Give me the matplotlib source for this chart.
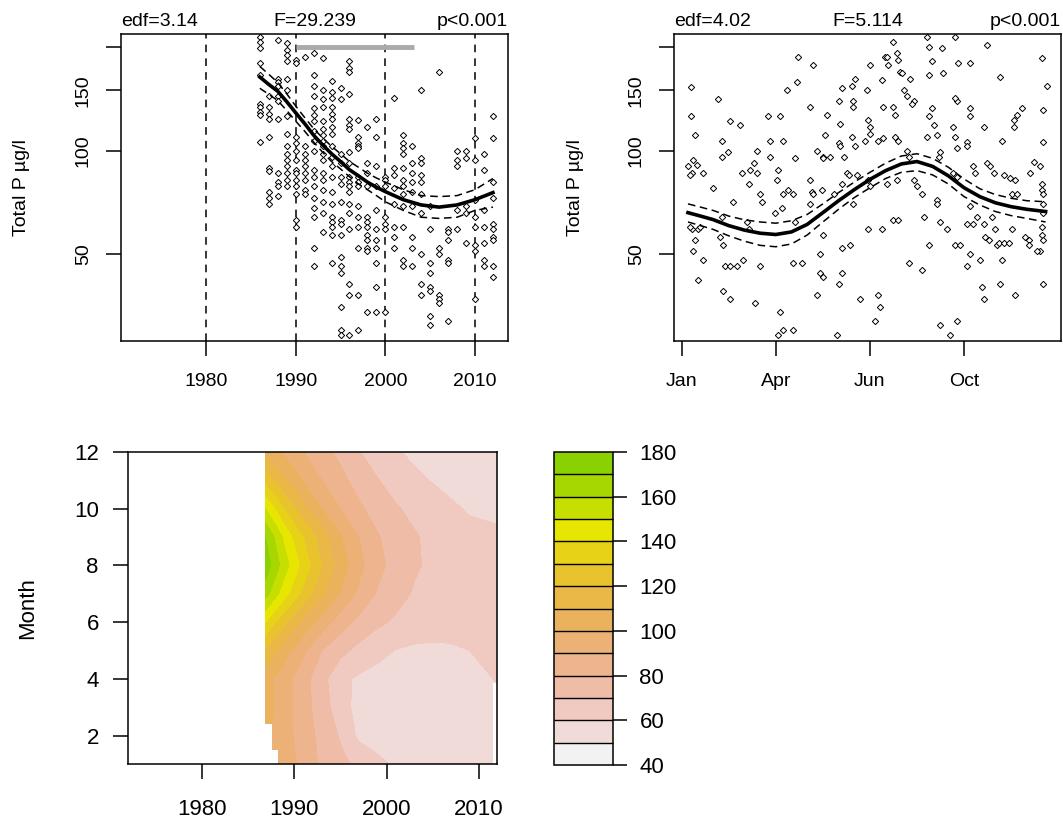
import colorsys
import numpy as np
import matplotlib
matplotlib.use("Agg")
import matplotlib.pyplot as plt
from matplotlib.patches import Rectangle
from matplotlib.ticker import NullLocator

plt.rcParams['font.family'] = ['Liberation Sans', 'DejaVu Sans']

# ---------------------------------------------------------------- data
# long term trend panel: observations per year
obs_years = [1986, 1987, 1988, 1989, 1990, 1991, 1992, 1993, 1994, 1995, 1996, 1997, 1998, 1999,
             2000, 2001, 2002, 2003, 2004, 2005, 2006, 2007, 2008, 2009, 2010, 2011, 2012]
obs_tp = [
    [214, 208, 199, 180, 166, 137, 134, 130, 127, 106],
    [144, 134, 128, 124, 110, 89, 87, 76, 73, 70],
    [210, 162, 159, 154, 144, 140, 124, 86, 81, 79, 74],
    [206, 197, 190, 182, 162, 150, 126, 112, 103, 98, 94, 90, 86, 82, 79],
    [184, 180, 110, 105, 100, 94, 88, 86, 82, 79, 75, 63, 60],
    [188, 103, 98, 94, 90, 86, 82, 77, 75],
    [192, 166, 154, 144, 133, 127, 122, 114, 107, 100, 88, 84, 79, 73, 68, 64, 52, 46],
    [186, 150, 141, 134, 122, 116, 111, 107, 103, 98, 94, 86, 82, 77, 71, 66, 58],
    [160, 148, 142, 134, 128, 124, 117, 112, 103, 96, 90, 84, 76, 70, 64, 62, 60, 57, 47],
    [152, 141, 98, 92, 84, 80, 71, 63, 61, 57, 49, 46, 44, 35, 30, 29],
    [182, 174, 170, 146, 124, 119, 116, 99, 92, 84, 81, 79, 76, 70, 66, 59, 41, 38, 29],
    [123, 110, 105, 103, 102, 84, 81, 79, 69, 64, 60, 52, 38, 30],
    [117, 92, 86, 79, 64, 62, 60, 57, 55, 52, 51, 34],
    [124, 110, 90, 79, 67, 59, 55, 52, 47, 40, 34],
    [84, 82, 79, 64, 61, 59, 34],
    [142, 89, 85, 78, 70, 60, 56, 52],
    [111, 105, 102, 98, 89, 82, 79, 75, 69, 60, 48, 46],
    [103, 92, 86, 81, 76, 69, 56, 52, 46],
    [150, 95, 92, 85, 81, 75, 66, 50, 41, 38],
    [69, 59, 47, 44, 40, 39, 33, 31],
    [170, 52, 50, 38, 37, 36],
    [59, 58, 55, 48, 47, 32],
    [100, 94, 90, 67, 59],
    [100, 95, 69, 66, 54],
    [109, 94, 72, 64, 60, 53, 51, 37],
    [98, 88, 67, 60, 54, 48, 46],
    [126, 109, 81, 73, 61, 59, 56, 55, 46, 43],
]

# smooth trend with confidence band
trend_years = [1986, 1987, 1988, 1989, 1990, 1991, 1992, 1993, 1994, 1995, 1996, 1997, 1998, 1999,
               2000, 2002, 2004, 2006, 2008, 2010, 2012]
trend_fit = [164, 156, 149, 139, 129, 120, 111, 104, 98, 93, 88, 84.5, 81, 78.3,
             76, 72, 69.5, 68.5, 69.5, 72, 75.5]
trend_hi = [176, 167, 158, 146.5, 135, 125, 116, 109, 103, 98, 93, 89.5, 86, 83.3,
            81, 77, 74, 73.5, 74, 77, 83]
trend_lo = [152, 146, 140, 131, 122, 114, 106, 99, 93, 88.5, 84, 80, 77, 74,
            71, 67, 64, 63.5, 64, 67, 68.5]
trend_vlines = [1980, 1990, 2000, 2010]
trend_period = [1990, 2003.2]
trend_stats = ['edf=3.14', 'F=29.239', 'p<0.001']

# seasonal panel: observations by month of year
season_month = [
    1.30, 1.29, 1.43, 1.37, 1.21, 1.48, 1.32, 1.69, 1.27, 1.32, 1.27, 1.53, 1.43, 1.37, 1.69, 1.53, 1.58,
    2.17, 2.01, 2.28, 2.54, 2.28, 2.49, 2.86, 2.28, 2.22, 2.33, 2.65, 2.38,
    2.54, 2.75, 2.97, 2.33, 2.54, 2.91, 3.07, 3.13, 3.18, 3.13, 3.29, 3.39,
    3.34, 3.50, 3.39, 3.50, 3.55, 3.76, 3.82, 3.82, 3.98, 4.03,
    4.14, 4.24, 4.19, 4.24, 4.14, 4.08, 4.24, 4.56, 4.35, 4.08,
    4.40, 4.56, 4.67, 4.61, 4.72, 4.61, 4.56, 4.83, 5.09, 5.15, 5.09, 5.20, 5.20,
    5.09, 5.31, 5.52, 5.46, 5.52, 5.41, 5.62, 5.57, 5.52, 5.31, 5.41, 5.52,
    5.73, 5.84, 5.94, 6.00, 6.10, 6.05, 6.00, 6.05, 6.16, 6.10, 6.26, 6.32, 6.37,
    6.10, 6.10, 6.00, 6.42, 6.53, 6.47, 6.47, 6.42, 6.53, 6.58, 6.69, 6.47,
    7.00, 6.95, 7.00, 7.00, 6.90, 6.85, 6.95, 7.00, 6.95, 7.17, 7.27, 7.32, 7.27, 7.38, 7.43, 7.48,
    7.59, 7.54, 7.43, 7.38, 7.75, 7.86, 7.91, 7.96, 7.75, 7.80, 7.80, 7.91, 7.54, 7.86, 7.75, 7.91,
    8.02, 8.07, 8.18, 8.28, 8.39, 8.33, 8.18, 8.23, 8.23, 8.39, 8.49,
    8.65, 8.65, 8.71, 8.81, 8.87, 8.87, 8.97, 8.87, 8.81, 8.87,
    8.97, 9.03, 9.13, 9.19, 9.24, 9.13, 9.13, 9.24, 9.34, 9.29, 9.45, 9.24, 9.56,
    9.72, 9.72, 9.66, 9.77, 9.77, 9.82, 9.72, 9.77, 9.72, 9.88, 9.66, 9.77,
    10.19, 10.09, 10.09, 10.19, 10.19, 10.09, 10.19, 10.30, 10.35, 10.19, 10.30, 10.09,
    10.41, 10.62, 10.62, 10.51, 10.57, 10.62, 10.73, 10.73, 10.83, 10.78, 10.89, 10.67,
    10.94, 10.99, 11.05, 11.15, 11.20, 11.20, 11.26, 11.10, 11.26, 11.42, 11.15,
    11.47, 11.52, 11.52, 11.58, 11.58, 11.68, 11.84, 11.68, 11.63, 11.63,
    11.95, 12.06, 12.06, 12.11, 12.22, 12.43, 12.48, 12.53, 12.53, 12.64, 12.48,
    12.48, 12.53, 12.53, 12.48, 12.48, 12.53, 12.43, 12.53, 12.32, 12.53,
]
season_tp = [
    153, 126, 111, 94, 90, 91, 86, 86, 85, 59, 60, 59, 55, 51, 48, 42, 60,
    141, 78, 107, 122, 96, 99, 119, 64, 56, 53, 71, 46,
    46, 46, 48, 39, 37, 86, 62, 59, 88, 80, 92, 100,
    36, 46, 86, 75, 71, 126, 107, 96, 66, 82,
    126, 107, 68, 75, 34, 29, 30, 30, 150, 88,
    77, 75, 159, 95, 188, 62, 47, 47, 82, 76, 70, 75, 178,
    134, 100, 96, 77, 57, 50, 127, 111, 95, 38, 44, 43,
    96, 75, 29, 140, 152, 120, 105, 103, 96, 80, 86, 85, 53,
    52, 44, 41, 154, 162, 140, 134, 110, 103, 85, 37, 70,
    178, 123, 117, 112, 150, 107, 82, 79, 59, 32, 38, 35, 107, 161, 134, 188,
    178, 188, 109, 59, 208, 192, 184, 170, 134, 127, 110, 107, 80, 82, 63, 63,
    168, 150, 144, 162, 140, 137, 100, 96, 47, 82, 79,
    75, 45, 64, 215, 166, 201, 182, 126, 110, 53,
    133, 119, 111, 96, 99, 72, 70, 62, 168, 199, 59, 31, 29,
    215, 110, 117, 102, 140, 180, 142, 32, 53, 53, 86, 84,
    180, 106, 103, 133, 126, 46, 50, 90, 86, 69, 61, 61,
    64, 117, 61, 48, 40, 37, 203, 92, 90, 55, 64, 56,
    86, 59, 53, 164, 107, 48, 85, 54, 54, 54, 41,
    83, 75, 59, 117, 123, 127, 133, 75, 38, 82,
    56, 55, 53, 86, 93, 90, 186, 131, 106, 154, 80,
    77, 75, 70, 60, 57, 55, 51, 41, 51, 66,
]

season_fit_month = [1.2, 1.6, 2.0, 2.5, 3.0, 3.5, 4.0, 4.5, 5.0, 5.5, 6.0, 6.5,
                    7.0, 7.5, 8.0, 8.5, 9.0, 9.5, 10.0, 10.5, 11.0, 11.5, 12.0, 12.6]
season_fit = [66, 64.5, 63, 60.5, 58.7, 57.5, 57, 58, 61, 66, 71.5, 77,
              82.5, 87.5, 91.5, 93, 90, 84.5, 78, 73.5, 70.5, 68.7, 67.5, 66.5]
season_hi = [70, 68.5, 67, 64.5, 62.9, 62, 61.5, 62.5, 65.2, 70, 75.5, 81,
             86.5, 92, 96.5, 98, 95, 89.5, 82.7, 77.5, 74.5, 72.7, 71.5, 71]
season_lo = [62, 60.5, 59, 56.5, 54.5, 53, 52.5, 53.5, 56.8, 62, 67.5, 73,
             78, 83, 86.5, 87.5, 85, 80, 73.5, 69.5, 66.5, 64.7, 63.5, 62]
season_ticks = [1, 4, 7, 10]
season_labels = ['Jan', 'Apr', 'Jun', 'Oct']
season_stats = ['edf=4.02', 'F=5.114', 'p<0.001']

# predicted Total P surface (year x month)
grid_years = [1986.9, 1988, 1989, 1990, 1991, 1993, 1995, 1997, 1999, 2001, 2003, 2005, 2007, 2009, 2012]
grid_months = [1, 2, 3, 4, 5, 6, 7, 8, 9, 10, 11, 12]
grid_tp = [
    [100, 98, 95.5, 91, 87, 78, 72.5, 67.5, 62.5, 58.5, 56, 55, 55, 55.5, 56],
    [102, 98, 94, 89.5, 85, 77, 69, 58, 55.5, 54.5, 54, 54, 54.5, 55, 57],
    [104, 99, 94, 89, 84, 75, 64, 57, 54.5, 53.5, 53, 53, 53.5, 55, 58],
    [104, 98.5, 93.5, 89, 84, 73.5, 62.2, 58.5, 56.5, 55.5, 55, 55, 56, 57.5, 60.5],
    [118, 111, 104, 98, 92, 80, 73, 67, 63, 59.7, 58.5, 58.5, 59, 60, 63],
    [140, 130, 121.5, 114, 107, 95.5, 85, 77.5, 72, 68.5, 65, 63.5, 63, 63, 64],
    [164, 153, 143.5, 135, 127, 112, 99, 88, 79, 73.5, 69, 66.5, 65, 64.5, 64],
    [176, 164.5, 154, 145, 136, 120, 105.5, 93, 83, 76.5, 71.3, 68, 66, 65, 64],
    [170, 158, 147, 138, 130, 115, 101, 90, 81, 75, 71, 67.5, 65, 63, 62],
    [150, 139, 129, 121, 113, 100, 90, 82, 75.5, 71, 67.5, 64.5, 61.5, 59, 57.5],
    [126, 118, 111, 105, 99, 90, 83, 76, 70.5, 66, 62, 59.5, 57, 55.5, 55],
    [106, 101.5, 97.5, 93.5, 90, 83.5, 77.5, 70.5, 65.5, 61, 58, 56, 55, 54.5, 54],
]
# corners of the year x month plane without predictions (x0, x1, y0, y1)
grid_gaps = [(1986.9, 1987.6, 1.0, 2.4), (1986.9, 1988.3, 1.0, 1.5), (2011.55, 2012.0, 1.0, 3.85)]
tp_levels = list(range(40, 190, 10))


def terrain_colors(n):
    # same recipe as R terrain.colors()
    k = n // 2
    cols = []
    for i in range(k):
        t = i / (k - 1)
        cols.append(colorsys.hsv_to_rgb(4 / 12 - 2 / 12 * t, 1.0, 0.65 + 0.25 * t))
    m = n - k + 1
    for j in range(1, m):
        t = j / (m - 1)
        cols.append(colorsys.hsv_to_rgb(2 / 12 * (1 - t), 1 - t, 0.9 + 0.05 * t))
    return cols


band_colors = terrain_colors(20)[6:][::-1]

FS_TOP = 14
FS_BOT = 16
W, H = 1063, 821


def px_box(x0, y0, x1, y1):
    return [x0 / W, 1 - y1 / H, (x1 - x0) / W, (y1 - y0) / H]


def r_style(ax, fs, xpad, ypad):
    for s in ax.spines.values():
        s.set_linewidth(1.1)
    ax.tick_params(direction='out', length=11, width=1.1, labelsize=fs, colors='black')
    ax.tick_params(axis='x', pad=xpad)
    ax.tick_params(axis='y', pad=ypad)


def scatter_panel(ax, x, y, fit_x, fit, hi, lo, stats):
    ax.plot(x, y, ls='none', marker='D', ms=3.2, mfc='white', mec='black', mew=0.7, zorder=3)
    ax.plot(fit_x, fit, color='black', lw=2.6, zorder=4)
    ax.plot(fit_x, hi, color='black', lw=1.1, dashes=(5, 3), zorder=4)
    ax.plot(fit_x, lo, color='black', lw=1.1, dashes=(5, 3), zorder=4)
    ax.set_yscale('log')
    ax.set_ylim(27.9, 218.8)
    ax.set_yticks([50, 100, 150, 200])
    ax.set_yticklabels(['50', '100', '150', ''])
    ax.yaxis.set_minor_locator(NullLocator())
    for lab in ax.get_yticklabels():
        lab.set_rotation(90)
        lab.set_va('center')
    for xa, ha, s in zip([0, 0.5, 1], ['left', 'center', 'right'], stats):
        ax.text(xa, 1.012, s, transform=ax.transAxes, ha=ha, va='bottom', fontsize=FS_TOP)


fig = plt.figure(figsize=(W / 100, H / 100), dpi=100)

# ---------------------------------------------------------------- trend
ax1 = fig.add_axes(px_box(121, 34, 508, 341))
xs = [yr for yr, vals in zip(obs_years, obs_tp) for _ in vals]
ys = [v for vals in obs_tp for v in vals]
for yr in trend_vlines:
    ax1.axvline(yr, color='black', lw=1.1, dashes=(5, 4), zorder=2)
ax1.plot(trend_period, [200, 200], color='#aaaaaa', lw=3.5, solid_capstyle='butt', zorder=2)
scatter_panel(ax1, xs, ys, trend_years, trend_fit, trend_hi, trend_lo, trend_stats)
ax1.set_xlim(1970.52, 2013.68)
ax1.set_xticks(trend_vlines)
r_style(ax1, FS_TOP, 12, 10)
fig.text(22 / W, 1 - 187.5 / H, 'Total P µg/l', rotation=90, ha='center', va='center', fontsize=FS_TOP)

# ---------------------------------------------------------------- season
ax2 = fig.add_axes(px_box(674, 34, 1061, 341))
scatter_panel(ax2, season_month, season_tp, season_fit_month, season_fit, season_hi, season_lo,
              season_stats)
ax2.set_xlim(0.755, 13.09)
ax2.set_xticks(season_ticks)
ax2.set_xticklabels(season_labels)
r_style(ax2, FS_TOP, 12, 10)
fig.text(575 / W, 1 - 187.5 / H, 'Total P µg/l', rotation=90, ha='center', va='center', fontsize=FS_TOP)

# ---------------------------------------------------------------- surface
ax3 = fig.add_axes(px_box(128, 452, 497, 764))
cs = ax3.contourf(grid_years, grid_months, np.array(grid_tp), levels=tp_levels, colors=band_colors,
                  zorder=1)
for x0, x1, y0, y1 in grid_gaps:
    ax3.add_patch(Rectangle((x0, y0), x1 - x0, y1 - y0, facecolor='white', edgecolor='none',
                            zorder=2))
ax3.set_xlim(1972.03, 2011.95)
ax3.set_ylim(1.0, 12.0)
ax3.set_xticks([1980, 1990, 2000, 2010])
ax3.set_yticks([2, 4, 6, 8, 10, 12])
r_style(ax3, FS_BOT, 14, 10)
fig.text(28 / W, 1 - 608 / H, 'Month', rotation=90, ha='center', va='center', fontsize=FS_BOT)

cax = fig.add_axes(px_box(554, 452, 613, 765))
cb = fig.colorbar(cs, cax=cax, ticks=list(range(40, 181, 20)), drawedges=True)
cb.outline.set_linewidth(1.1)
cb.dividers.set_color('black')
cb.dividers.set_linewidth(1.0)
cax.tick_params(direction='out', length=10, width=1.1, labelsize=FS_BOT, pad=9)
cax.yaxis.set_minor_locator(NullLocator())

fig.savefig('out.png', dpi=100)
